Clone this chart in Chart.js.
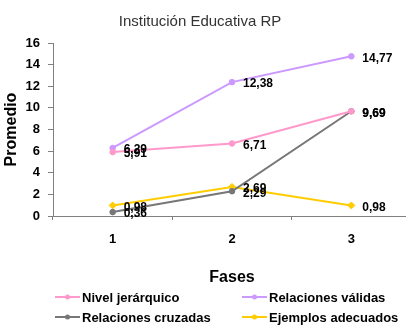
<!DOCTYPE html>
<html>
<head>
<meta charset="utf-8">
<script src="https://cdn.jsdelivr.net/npm/chart.js@4"></script>
<style>
    html, body { margin: 0; padding: 0; background: #fff; overflow: hidden; }
    #wrap { position: relative; width: 416px; height: 327px; }
</style>
</head>
<body>
<div id="wrap"><canvas id="c" width="416" height="327"></canvas></div>
<script>
const fases = ["1", "2", "3"];
const nivelJerarquico = [5.91, 6.71, 9.69];
const relacionesValidas = [6.29, 12.38, 14.77];
const relacionesCruzadas = [0.36, 2.29, 9.69];
const ejemplosAdecuados = [0.98, 2.69, 0.98];
const yTicks = [0, 2, 4, 6, 8, 10, 12, 14, 16];
const chartTitle = "Institución Educativa RP";

const AXIS_FONT = "Arial, 'Liberation Sans', sans-serif";

function fmt(v) {
    return v.toFixed(2).replace(".", ",");
}

// title, centred on the visible 406px page rather than the wider canvas
const pageTitle = {
    id: "pageTitle",
    afterDraw(chart) {
        const ctx = chart.ctx;
        ctx.save();
        ctx.font = "15px " + AXIS_FONT;
        ctx.fillStyle = "#333";
        ctx.textAlign = "center";
        ctx.textBaseline = "middle";
        ctx.fillText(chartTitle, 200, 22);
        ctx.restore();
    }
};

// value labels next to each point
const valueLabels = {
    id: "valueLabels",
    afterDatasetsDraw(chart) {
        const ctx = chart.ctx;
        ctx.save();
        ctx.font = "bold 12px " + AXIS_FONT;
        ctx.fillStyle = "#000";
        ctx.textAlign = "left";
        ctx.textBaseline = "middle";
        chart.data.datasets.forEach(function (ds, i) {
            const meta = chart.getDatasetMeta(i);
            meta.data.forEach(function (pt, j) {
                ctx.fillText(fmt(ds.data[j]), pt.x + 11, pt.y + 2);
            });
        });
        ctx.restore();
    }
};

// two-column legend under the axis title
const gridLegend = {
    id: "gridLegend",
    afterDraw(chart) {
        const ctx = chart.ctx;
        const cols = [55, 242];
        const rows = [297, 317];
        ctx.save();
        ctx.font = "bold 13px " + AXIS_FONT;
        ctx.textBaseline = "middle";
        ctx.textAlign = "left";
        chart.data.datasets.forEach(function (ds, i) {
            const x = cols[i % 2];
            const y = rows[Math.floor(i / 2)];
            ctx.strokeStyle = ds.borderColor;
            ctx.lineWidth = 2;
            ctx.beginPath();
            ctx.moveTo(x, y);
            ctx.lineTo(x + 25, y);
            ctx.stroke();
            ctx.fillStyle = ds.borderColor;
            ctx.beginPath();
            ctx.arc(x + 12.5, y, 2.5, 0, Math.PI * 2);
            ctx.fill();
            ctx.fillStyle = "#000";
            ctx.fillText(ds.label, x + 27, y + 1);
        });
        ctx.restore();
    }
};

function line(label, data, color, style) {
    return {
        label: label,
        data: data,
        borderColor: color,
        backgroundColor: color,
        borderWidth: 2,
        pointRadius: style === "rectRot" ? 3.5 : 2.8,
        pointBorderWidth: 1,
        pointStyle: style,
        tension: 0
    };
}

new Chart(document.getElementById("c"), {
    type: "line",
    data: {
        labels: fases,
        datasets: [
            line("Nivel jerárquico", nivelJerarquico, "#ff99cc", "circle"),
            line("Relaciones válidas", relacionesValidas, "#cc99ff", "circle"),
            line("Relaciones cruzadas", relacionesCruzadas, "#777777", "circle"),
            line("Ejemplos adecuados", ejemplosAdecuados, "#ffcc00", "rectRot")
        ]
    },
    options: {
        responsive: false,
        animation: false,
        layout: { padding: { top: 43, bottom: 40, right: 0 } },
        scales: {
            x: {
                offset: true,
                grid: { display: true, drawOnChartArea: false, drawTicks: true, tickLength: 4, color: "#808080", offset: true },
                border: { display: true, color: "#808080", dash: [1, 1] },
                ticks: { color: "#000", padding: 12, font: { family: AXIS_FONT, size: 13, weight: "bold" } },
                title: { display: true, text: "Fases", color: "#000", padding: { top: 0, bottom: 0 }, font: { family: AXIS_FONT, size: 16, weight: "bold" } },
                afterFit(scale) { scale.height = 71; }
            },
            y: {
                min: 0,
                max: 16,
                afterBuildTicks(scale) { scale.ticks = yTicks.map(function (v) { return { value: v }; }); },
                grid: { display: true, drawOnChartArea: false, drawTicks: true, tickLength: 5, color: "#808080" },
                border: { display: true, color: "#808080", dash: [1, 1] },
                ticks: { color: "#000", padding: 8, font: { family: AXIS_FONT, size: 13, weight: "bold" } },
                title: { display: true, text: "Promedio", color: "#000", padding: { top: 2, bottom: 0 }, font: { family: AXIS_FONT, size: 16, weight: "bold" } },
                afterFit(scale) { scale.width = 53; }
            }
        },
        plugins: {
            legend: { display: false },
            tooltip: { enabled: false },
            title: { display: false }
        }
    },
    plugins: [pageTitle, valueLabels, gridLegend]
});
</script>
</body>
</html>
